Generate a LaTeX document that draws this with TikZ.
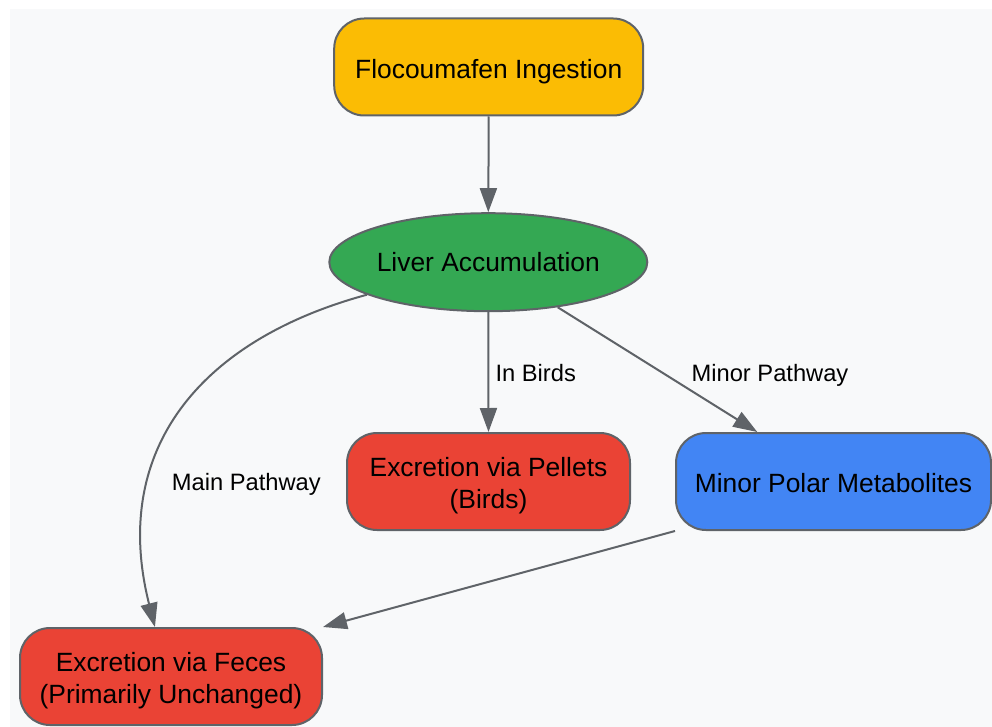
\documentclass[tikz,border=0pt]{standalone}
\usepackage{fontspec}
\setmainfont{Liberation Sans}
\usetikzlibrary{arrows.meta,shapes.geometric}
\definecolor{bgc}{HTML}{F8F9FA}
\definecolor{edgec}{HTML}{5F6368}
\definecolor{yel}{HTML}{FBBC04}
\definecolor{grn}{HTML}{34A853}
\definecolor{rd}{HTML}{EA4335}
\definecolor{blu}{HTML}{4285F4}
\newcommand\nstrut{\rule[-5.5pt]{0pt}{33.5pt}}
\newcommand\dstrut{\rule[-5.5pt]{0pt}{5.5pt}}
\newcommand\ostrut{\rule[-5.5pt]{0pt}{30pt}}
\tikzset{
  box/.style={draw=edgec, line width=2pt, rounded corners=30pt, inner sep=0pt,
    minimum height=97pt, align=center, text=black,
    font=\fontsize{26.4}{32.2}\selectfont},
  oval/.style={ellipse, draw=edgec, line width=2pt, inner sep=0pt,
    minimum width=318pt, minimum height=98pt, text=black,
    font=\fontsize{26.4}{32.2}\selectfont},
  conn/.style={draw=edgec, line width=2pt, -{Triangle[length=24pt,width=17pt]}},
  lbl/.style={inner sep=0pt, anchor=base, text=black, font=\fontsize{23.7}{28}\selectfont}
}
\begin{document}
\begin{tikzpicture}[x=1pt,y=-1pt]
\useasboundingbox (0,0) rectangle (992,727);
\fill[bgc] (10,9) rectangle (992,727);

\node[box, fill=yel, minimum width=309pt] (ing) at (488.7,67) {\nstrut Flocoumafen Ingestion};
\node[oval, fill=grn] (liver) at (488.3,262.2) {\ostrut Liver Accumulation};
\node[box, fill=rd, minimum width=283pt] (pel) at (488.5,481.5) {\nstrut Excretion via Pellets\\\dstrut(Birds)};
\node[box, fill=blu, minimum width=315pt] (minor) at (833.5,481.5) {\nstrut Minor Polar Metabolites};
\node[box, fill=rd, minimum width=302pt] (fec) at (171,676.5) {\nstrut Excretion via Feces\\\dstrut(Primarily Unchanged)};

\draw[conn] (ing.south) -- (liver.north);
\draw[conn] (liver.south) -- (pel.north);
\draw[conn] (liver.-33) -- (minor.147);
\draw[conn] (liver.195) .. controls (200,340) and (110,450) .. (fec.108);
\draw[conn] (minor.south west) -- (fec.north east);

\node[lbl] (l1) at (535.7,381) {In Birds};
\node[lbl] (l2) at (770,381) {Minor Pathway};
\node[lbl] (l3) at (246.3,490.7) {Main Pathway};
\end{tikzpicture}
\end{document}
